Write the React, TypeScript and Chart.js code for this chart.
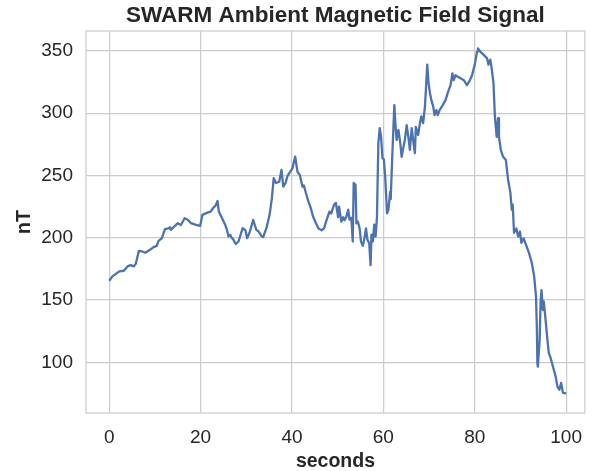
import React, { useEffect, useRef } from "react";
import { Chart, registerables } from "chart.js";

Chart.register(...registerables);

// Ambient magnetic field trace (seconds, nT)
const seconds: number[] = [
  0, 0.7, 2.2, 3.2, 4.0, 4.7, 5.4, 5.8, 6.5, 7.2, 7.9, 9.0, 9.7, 10.4, 10.8, 11.5,
  12.2, 13.0, 13.3, 13.5, 14.4, 15.0, 15.7, 16.5, 17.2, 17.9, 19.0, 19.9, 20.4, 21.5,
  22.2, 22.7, 23.3, 23.7, 24.0, 24.7, 25.4, 25.8, 26.1, 26.5, 26.8, 27.2, 27.7, 28.3,
  29.2, 29.8, 30.2, 30.7, 31.0, 31.5, 32.2, 32.7, 33.3, 33.7, 34.4, 35.1, 35.6, 36.0,
  36.5, 37.2, 37.7, 38.1, 38.6, 39.0, 39.4, 40.1, 40.7, 41.2, 41.7, 42.3, 42.6, 43.0,
  43.6, 44.1, 44.6, 45.2, 45.8, 46.5, 47.0, 47.6, 48.2, 48.6, 49.2, 49.6, 50.1, 50.3,
  50.8, 51.2, 51.5, 51.9, 52.3, 52.6, 53.0, 53.3, 53.5, 53.9, 54.1, 54.4, 54.8, 55.1,
  55.5, 55.8, 56.2, 56.5, 56.9, 57.2, 57.4, 57.7, 58.0, 58.3, 58.6, 58.9, 59.2, 59.5,
  59.8, 60.1, 60.4, 60.8, 61.1, 61.5, 61.6, 62.0, 62.4, 62.6, 62.9, 63.3, 63.7, 64.0,
  64.4, 64.7, 65.1, 65.5, 65.8, 66.2, 66.6, 66.9, 67.1, 67.6, 68.0, 68.3, 68.7, 69.1,
  69.3, 69.6, 69.9, 70.2, 70.5, 70.9, 71.2, 71.6, 71.9, 72.3, 73.0, 73.6, 74.2, 74.7,
  75.1, 75.4, 75.8, 76.2, 76.9, 77.6, 78.3, 78.8, 79.4, 80.0, 80.5, 80.7, 81.2, 81.9,
  82.7, 83.0, 83.4, 83.7, 84.1, 84.4, 84.8, 85.1, 85.3, 85.7, 86.2, 86.8, 87.3, 87.8,
  88.1, 88.3, 88.6, 89.1, 89.5, 89.9, 90.2, 90.7, 91.2, 91.9, 92.5, 93.0, 93.4, 93.6,
  93.7, 93.8, 94.2, 94.4, 94.6, 94.9, 95.1, 95.5, 95.9, 96.2, 96.6, 96.9, 97.3, 97.7,
  98.1, 98.5, 98.9, 99.3, 100,
];

const fieldNT: number[] = [
  165.5, 169, 173, 173.5, 177, 178, 177, 179, 189.5, 189, 188, 190.5, 192.5, 193.5, 197.5, 199.5,
  207, 207.5, 208.5, 206.3, 209.6, 211.7, 210.3, 215.7, 214.5, 211.7, 210.3, 209.5, 218.4, 220.2,
  221, 223.7, 226, 229.5, 221, 215.7, 210.3, 206, 201, 202.3, 200, 198.3, 195, 197,
  207.7, 206, 199.7, 204, 207.7, 214.3, 206.3, 205, 201.5, 200.5, 207.7, 218.4, 231.8, 247.8,
  244, 245, 254.5, 241, 244, 249.5, 251.8, 255.8, 265.2, 253, 250.5, 241, 242, 236.5,
  229, 224, 217, 212, 207.5, 206, 207.5, 214.5, 221, 219.5, 226.5, 228, 216.5, 225,
  213, 216.5, 214, 217, 222.5, 214.5, 216, 197, 244, 242.5, 211.5, 213, 207.5, 197,
  193.5, 198.5, 207.5, 198.5, 195.5, 178, 202.5, 197, 210.5, 201, 217, 276, 288, 281,
  264, 263, 249, 219.5, 222.5, 237, 231, 270.5, 306.5, 293, 278.5, 286.5, 276, 265,
  273, 278.5, 290.5, 280, 270.5, 288, 276, 268, 289, 282.5, 292, 297.5, 292, 305.5,
  318.5, 339, 324, 316, 310.5, 305.5, 298.5, 302.5, 298.5, 302.5, 306.5, 310.5, 317.5, 322.5,
  332, 326.5, 330.5, 329.5, 328, 326.5, 322.5, 325.5, 330.5, 339, 349.5, 352, 349.5, 347,
  344, 339, 343, 336, 324, 297.5, 281, 296, 281, 270.5, 265, 262.5, 246.5, 236,
  222.5, 226.5, 204, 207.5, 201, 205, 196, 199.5, 194.5, 187.5, 179.5, 169, 153, 126,
  99.5, 96.5, 118, 147.5, 158, 142, 149, 134, 118, 107.5, 103.5, 99.5, 94, 88.5,
  80.5, 78, 83.5, 75.5, 75,
];

const xTicks: number[] = [0, 20, 40, 60, 80, 100];
const yTicks: number[] = [100, 150, 200, 250, 300, 350];
const chartTitle = "SWARM Ambient Magnetic Field Signal";

const FONT = "'Liberation Sans', Arial, Helvetica, sans-serif";
const TEXT = "#262626";
const GRID = "#cccccc";
const LINE = "#4c72b0";

// Light frame around the plotting area, and the title centred over the axes
const framePlugin = {
  id: "frame",
  beforeDatasetsDraw(chart: any) {
    const { ctx, chartArea } = chart;
    ctx.save();
    ctx.strokeStyle = GRID;
    ctx.lineWidth = 1.25;
    ctx.strokeRect(chartArea.left, chartArea.top, chartArea.right - chartArea.left, chartArea.bottom - chartArea.top);
    ctx.restore();
  },
  afterDraw(chart: any) {
    const { ctx, chartArea } = chart;
    ctx.save();
    ctx.fillStyle = TEXT;
    ctx.font = `bold 22.5px ${FONT}`;
    ctx.textAlign = "center";
    ctx.textBaseline = "middle";
    ctx.fillText(chartTitle, (chartArea.left + chartArea.right) / 2, 16);
    ctx.restore();
  },
};

export default function App() {
  const ref = useRef<HTMLCanvasElement | null>(null);

  useEffect(() => {
    if (!ref.current) return;
    const points = seconds.map((s, i) => ({ x: s, y: fieldNT[i] }));
    const chart = new Chart(ref.current, {
      type: "line",
      data: {
        datasets: [
          {
            data: points,
            borderColor: LINE,
            borderWidth: 2.3,
            pointRadius: 0,
            tension: 0,
            fill: false,
            borderJoinStyle: "round",
          },
        ],
      },
      options: {
        animation: false,
        responsive: false,
        maintainAspectRatio: false,
        layout: { padding: { left: 0, right: 0, top: 31, bottom: 0 } },
        plugins: {
          legend: { display: false },
          tooltip: { enabled: false },
          title: { display: false },
        },
        scales: {
          x: {
            type: "linear",
            min: -5.08,
            max: 104.1,
            afterBuildTicks: (scale: any) => {
              scale.ticks = xTicks.map((v) => ({ value: v }));
            },
            afterFit: (scale: any) => {
              scale.height = 58;
            },
            grid: { color: GRID, lineWidth: 1.25, drawTicks: false },
            border: { display: false },
            ticks: {
              color: TEXT,
              font: { family: FONT, size: 19 },
              padding: 13,
              maxRotation: 0,
            },
            title: {
              display: true,
              text: "seconds",
              color: TEXT,
              font: { family: FONT, size: 19.5, weight: "bold", lineHeight: 1 },
              padding: { top: 0, bottom: 0 },
            },
          },
          y: {
            type: "linear",
            min: 59.3,
            max: 366,
            afterBuildTicks: (scale: any) => {
              scale.ticks = yTicks.map((v) => ({ value: v }));
            },
            afterFit: (scale: any) => {
              scale.width = 86;
            },
            grid: { color: GRID, lineWidth: 1.25, drawTicks: false },
            border: { display: false },
            ticks: {
              color: TEXT,
              font: { family: FONT, size: 19 },
              padding: 13,
            },
            title: {
              display: true,
              text: "nT",
              color: TEXT,
              font: { family: FONT, size: 19.5, weight: "bold", lineHeight: 1 },
              padding: { top: 15, bottom: 0 },
            },
          },
        },
      },
      plugins: [framePlugin],
    });
    return () => chart.destroy();
  }, []);

  return (
    <div style={{ position: "fixed", left: 0, top: 0, width: 595, height: 471, background: "#ffffff" }}>
      <canvas ref={ref} width={595} height={471} />
    </div>
  );
}
